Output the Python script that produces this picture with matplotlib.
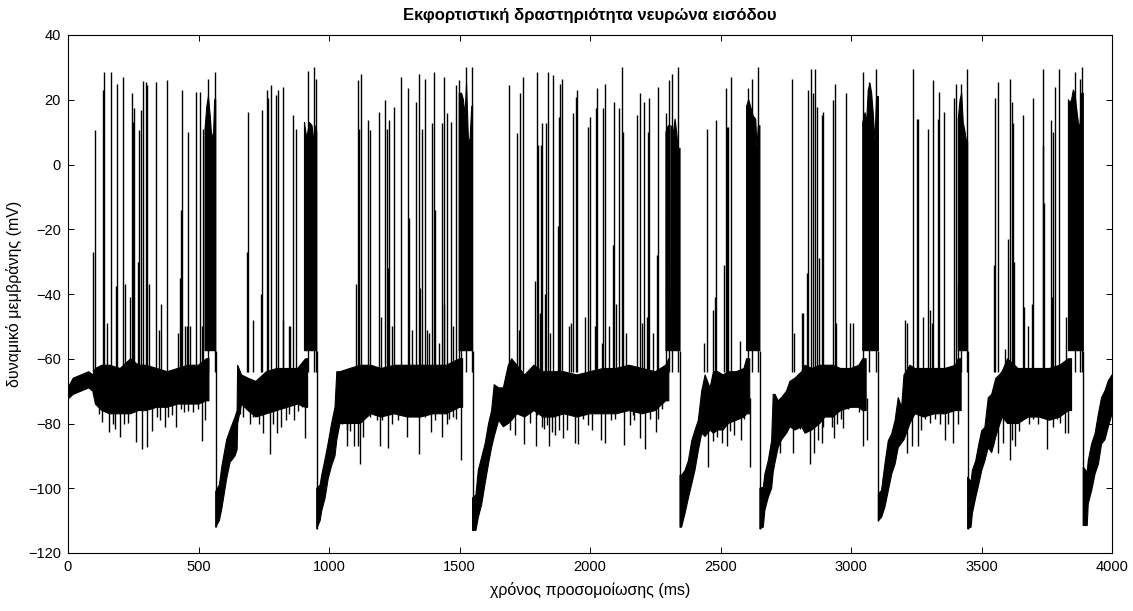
import numpy as np
import matplotlib
matplotlib.use("Agg")
import matplotlib.pyplot as plt

plt.rcParams['font.family'] = ['Liberation Sans', 'DejaVu Sans']

nan = np.nan

# dense sub-threshold band of the trace (ms, mV); NaN splits it at each burst
band_t = [0, 20, 50, 80, 95, 105, 130, 160, 200, 240, 270, 300, 340, 380, 420, 460, 500, 530, 540, nan,
          566, 580, 590, 608, 621, 640, 648, 650, 665, 690, 720, 760, 800, 840, 880, 910, 918, nan,
          953, 966, 972, 985, 997, 1010, 1023, 1030, 1042, 1080, 1120, 1160, 1200, 1250, 1300, 1350, 1400, 1450, 1500, 1512, nan,
          1550, 1563, 1572, 1585, 1598, 1611, 1623, 1633, 1650, 1668, 1687, 1700, 1720, 1750, 1785, 1820, 1860, 1900, 1950, 2000,
          2050, 2100, 2150, 2200, 2250, 2290, 2302, nan,
          2345, 2351, 2364, 2377, 2390, 2402, 2415, 2428, 2441, 2460, 2473, 2490, 2510, 2530, 2560, 2590, 2600, 2612, nan,
          2651, 2664, 2670, 2683, 2696, 2702, 2709, 2721, 2734, 2753, 2766, 2785, 2811, 2824, 2850, 2880, 2900, 2930, 2960, 3000,
          3030, 3045, 3058, nan,
          3105, 3117, 3130, 3143, 3156, 3169, 3181, 3194, 3203, 3226, 3245, 3280, 3320, 3360, 3400, 3411, 3422, nan,
          3447, 3460, 3465, 3478, 3490, 3501, 3513, 3526, 3539, 3555, 3571, 3580, 3600, 3640, 3680, 3720, 3760, 3800, 3833, 3845, nan,
          3890, 3905, 3909, 3922, 3935, 3948, 3960, 3973, 3986, 4000]
band_lo = [-72.5, -71, -70, -69, -70, -74, -76, -77, -77, -77, -76, -76, -75, -75, -74, -74, -74, -73, -73, nan,
           -112, -110, -106, -97, -92, -90, -88, -80, -74, -76, -78, -77, -76, -75, -74, -75, -75, nan,
           -112.5, -110, -107, -103, -97, -93, -90, -85, -80, -80, -80, -77, -78, -77, -78, -78, -77, -77, -75, -75, nan,
           -113, -113, -109, -105, -98.6, -92.5, -87.4, -84, -79, -81, -80, -79, -77, -78, -76, -78, -78, -77, -78, -77,
           -77, -77, -76, -77, -76, -73, -73, nan,
           -112, -112, -107.8, -103, -98.6, -94.5, -88.4, -83, -84, -82, -83, -82, -82, -80, -79, -78, -77, -77, nan,
           -112.5, -112, -106.8, -102.8, -100, -95, -92, -87.4, -85, -83, -81, -82, -81, -83, -82, -80, -78, -78, -76, -75,
           -75, -76, -76, nan,
           -110, -109, -105.8, -100.7, -95.6, -92.5, -87.4, -86, -85, -80, -77, -78, -77, -77, -76, -76, -76, nan,
           -112.5, -112, -107.8, -102.8, -98.6, -94.5, -91.5, -87.4, -89, -84, -80, -78, -80, -80, -78, -78, -79, -78, -76, -76, nan,
           -111.5, -111.5, -104.8, -100.7, -95.6, -92.5, -86.3, -85, -81, -77]
band_hi = [-69, -66, -65, -64, -65, -63, -62, -62, -63, -60, -62, -62, -63, -64, -63, -62, -62, -60, -60, nan,
           -101, -99, -93, -85, -82, -78, -76, -62, -65, -66, -67, -64, -63, -63, -63, -60, -60, nan,
           -100, -99, -96, -91, -86, -80, -75, -64, -64, -63, -62, -62, -63, -62, -62, -62, -62, -62, -60, -60, nan,
           -103, -102, -94.5, -90.4, -86.3, -80.2, -76, -68, -69, -69, -62, -60, -62, -65, -62, -64, -64, -64, -65, -64,
           -63, -63, -62, -63, -64, -62, -60, nan,
           -96, -96, -94.5, -91.5, -85.3, -82.2, -79, -70, -65, -69, -64, -64, -65, -64, -64, -63, -60, -60, nan,
           -100, -99.7, -95.6, -91.5, -85.3, -71, -71, -73, -72, -70, -67, -66, -64, -62, -63, -62, -62, -62, -63, -63,
           -62, -60, -60, nan,
           -101.7, -100.7, -92.5, -85.3, -83.2, -79, -72, -75, -65, -62, -63, -63, -63, -63, -62, -60, -60, nan,
           -96.6, -98, -94.5, -91.5, -86.3, -82.2, -81.2, -72, -71, -66, -64.8, -63.8, -60, -63, -63, -63, -63, -62, -60, -60, nan,
           -93.5, -95, -91.5, -86.3, -83.2, -77, -72, -69.9, -66.8, -65]

# burst plateaus: upper edge of the filled block above the reset level
block_t = [525, 532, 538, 545, 551, 558, 562, 566, nan,
           906, 915, 925, 935, 943, 950, 953, nan,
           1499, 1508, 1515, 1521, 1527, 1534, 1540, 1547, 1550, nan,
           2291, 2300, 2303, 2304, 2309, 2310, 2320, 2326, 2332, 2338, 2345, nan,
           2600, 2608, 2615, 2625, 2635, 2640, 2645, 2651, nan,
           3045, 3054, 3060, 3066, 3073, 3079, 3085, 3092, 3098, 3105, nan,
           3411, 3418, 3424, 3430, 3437, 3443, 3447, nan,
           3833, 3839, 3845, 3852, 3858, 3865, 3871, 3877, 3884, 3890]
block_top = [11, 18, 21, 15, 8, 10, 20, 20, nan,
             13, 8, 13, 12, 7, 12, 10, nan,
             22, 22, 20, 15, 25, 8, 7, 18, 18, nan,
             10, 12, 12, -45, -45, 12, 10, 14, 10, 5, 5, nan,
             18, 20, 18, 15, 14, 5, 12, 12, nan,
             13, 16, 13, 23, 25, 22, 16, 7, 21, 21, nan,
             14, 20, 22, 13, 10, 7, 7, nan,
             20, 19, 20, 23, 22, 17, 13, 11, 22, 22]
block_floor = -57.5

# after-burst hyperpolarisation
reset_t = [566, 953, 1550, 2345, 2651, 3105, 3447, 3890]
reset_min = [-112, -112.5, -113, -112, -112.5, -110, -112.5, -111.5]

# spike peaks (ms, mV)
spike_t = [97, 102, 133, 138, 148, 164, 184, 189, 209, 220, 237, 244, 248, 253, 270, 273, 278, 289, 299, 304, 312, 350,
           336, 356, 378, 423, 430, 433, 435, 448, 455, 461, 467, 489, 506, 512, 519, 535, 563,
           684, 688, 707, 740, 742, 761, 765, 777, 797, 803, 822, 825, 846, 851, 861, 874, 920, 944, 950,
           1103, 1110, 1115, 1123, 1148, 1157, 1193, 1198, 1215, 1221, 1227, 1230, 1243, 1249, 1275, 1304, 1308, 1317,
           1332, 1345, 1349, 1355, 1368, 1375, 1383, 1396, 1404, 1406, 1421, 1432, 1439,
           1442, 1451, 1466, 1474, 1487, 1499, 1504, 1525, 1547,
           1691, 1719, 1729, 1732, 1745, 1789, 1796, 1800,
           1808, 1812, 1817, 1828, 1831, 1840, 1847, 1860, 1876, 1881, 1885, 1894, 1920, 1927, 1936, 1945, 1952, 1981,
           1994, 2000, 2019, 2023, 2026, 2045, 2051, 2058, 2073, 2087, 2092, 2098, 2111, 2124, 2128, 2137,
           2181, 2192, 2198, 2207, 2220, 2224, 2227, 2240, 2258, 2262, 2291, 2303, 2313, 2338,
           2435, 2450, 2473, 2479, 2483, 2513, 2521, 2524, 2527, 2540, 2575, 2606, 2622, 2645,
           2773, 2781, 2811, 2816, 2830, 2836, 2847, 2856, 2862, 2868, 2877, 2888,
           2891, 2930, 2939, 2943, 2981, 2996, 3006, 3045, 3070, 3096,
           3207, 3216, 3236, 3252, 3258, 3277, 3296, 3303, 3312, 3315, 3332, 3337, 3358, 3396, 3401, 3409, 3421, 3443,
           3549, 3552, 3562, 3590, 3600, 3609, 3616,
           3622, 3626, 3660, 3663, 3679, 3692, 3699, 3734, 3737, 3740, 3766, 3769, 3773, 3782, 3798, 3824,
           3858, 3877, 3884]
spike_v = [-27, 10.6, 23, 28.6, -49, 28.6, -37.6, 25, 27, -37, -41, 22, 13, 17.3, -30, 10.6, 16.8, 25.7, 25.5, 24.5, -37, -51,
           25.5, -43, 26, -52, -35, -14, 23, -50, -50, 10, -50, 22.4, 22.4, -50, 11, 26.5, 28.6,
           -27, 16.3, -48, -40, 16.8, 23, 20.4, 24.5, 21.4, 23, -48, 24, -50, -50, 15.3, 11, 29, 30, 26.5,
           -37, 26, 11, 28, 13.7, 10.6, 16.3, -47, 20, 11, -32, 13.7, -50, 17.8, 27, 23.5, -16.6, -51,
           19.4, 28, -38, 11, 26.5, -51, -52, 12.7, 28.6, -14, -55, 12.7, 27,
           -43, 15.8, 13.2, -50, 24.5, 26, -40, 30, 30,
           24.5, 9.6, -51, 22, 27, -36, 28.6, 6,
           -46, 6, 12.7, -40, 12.7, 28.6, -52, 27.6, -19, 14.7, 25, 26.5, -50, -49, 15.8, 21, 23, -47,
           11.7, 14.7, -50, 17.3, 23.5, -55, 17.3, 25, -50, -25, 19.4, -43, 17.3, 30, 10, -52,
           15.3, 22, -49, 19.4, -47, 10, 20.4, -52, -28, 24, 15.8, 26, 28, 30,
           -55, 11, -45, -41, 13.7, -31, 23.5, 11.7, 11.7, 27, -54.5, 23.5, 26.5, 30,
           26.5, -52, -46, -46, -33.5, 23, 29.6, 22, 29.6, 17.8, -29, 15.3,
           16.3, 20, 25, -49, 22, -49, -49, 28.6, 25.5, 29.6,
           -48, -49, 29.6, 14.2, 14.2, -47, 11, -45, -49, 26, 14.2, 22.4, 16.3, 20.4, 25, -37, 25, 29.6,
           -31, 20.4, 25.5, -57, -23, 26.5, 19.4,
           12.7, -30, 15.3, -44, -50, -43, 20.4, 6, 29.6, -12, 13.7, -41, 10, 24, 29.6, -47,
           28.6, 26.5, 30]

# downward excursions below the band (ms, mV)
dip_t = [103, 120, 129, 158, 171, 180, 199, 215, 231, 261, 283, 301, 321, 340,
         352, 372, 384, 397, 413, 433, 446, 461, 480, 497, 512, 525,
         660, 672, 697, 710, 733, 746, 774, 784, 802, 815, 835, 848, 866, 882, 895, 908,
         1050, 1070, 1068, 1080, 1097, 1112, 1119, 1132, 1157, 1183, 1195, 1204, 1227, 1243, 1266, 1298, 1323, 1345,
         1368, 1391, 1406, 1432, 1451, 1461, 1476, 1487, 1504,
         1693, 1713, 1748, 1770, 1798,
         1793, 1815, 1825, 1834, 1844, 1856, 1866, 1881, 1898, 1911, 1943, 1953, 1974, 1991, 2006, 2042, 2058, 2081,
         2096, 2132, 2153, 2170, 2166, 2192, 2211, 2230, 2253, 2262, 2275,
         2453, 2473, 2488, 2505, 2524, 2536, 2553, 2566, 2579, 2591, 2613,
         2728, 2747, 2779, 2805, 2824, 2843, 2859, 2872, 2888,
         2894, 2904, 2926, 2935, 2948, 2960, 2968, 2990, 3012, 3032, 3045, 3060,
         3216, 3232, 3255, 3268, 3284, 3303, 3322, 3341, 3360, 3373, 3392, 3409,
         3545, 3564, 3584, 3609, 3616, 3628, 3645, 3660, 3683, 3699, 3718, 3750, 3775, 3788, 3801, 3820, 3833]
dip_v = [-72.5, -77, -79.6, -82.7, -80.2, -81.7, -84.3, -80.2, -79.7, -85.8, -87.9, -87.4, -82.2, -78,
         -79, -81, -78, -77.5, -81, -75.5, -76.5, -76, -76.5, -75.5, -85.3, -79,
         -77, -78, -80, -78, -80, -83, -89.4, -80, -83, -81, -79, -77, -79, -76, -75, -84.5,
         -80, -82, -87, -82.2, -87, -87, -92.5, -84.3, -78, -79, -87, -79, -87.5, -80, -79, -84.3, -77, -89.4,
         -78, -82.5, -79, -84.3, -80.2, -78.7, -78, -78.7, -91.4,
         -82, -83.6, -86.3, -79.7, -77.5,
         -87, -81, -81.6, -80.6, -87, -82.7, -83.6, -82, -84.6, -82, -86, -86.3, -78.5, -80.6, -82, -85, -86, -79,
         -78.5, -86.5, -80.6, -79, -77.5, -84.5, -88, -78.5, -82.7, -78.5, -75.5,
         -93.5, -85.3, -84.3, -86, -87, -82.2, -83.6, -76, -85, -78.5, -93.5,
         -89, -81.8, -89, -81.8, -79.7, -92.5, -89, -85, -86,
         -81, -74.5, -81, -84.5, -80.3, -78.7, -81.3, -75.5, -74.5, -76.6, -87, -85,
         -89, -87, -87, -82, -78.7, -79.7, -78.7, -80.3, -85, -80.3, -86, -80,
         -87, -89, -86, -91.2, -85, -87, -82.4, -77.7, -80.3, -78.7, -80.3, -88, -81, -78.7, -79.7, -83, -83]

x_ticks = np.arange(0, 4001, 500)
y_ticks = np.arange(-120, 41, 20)

fig = plt.figure(figsize=(11.33, 6.11), dpi=100)
ax = fig.add_axes([68 / 1133, 1 - 553 / 611, 1044 / 1133, 518 / 611])

ax.fill_between(band_t, band_lo, band_hi, facecolor='k', edgecolor='k', lw=0.8)
ax.fill_between(block_t, block_floor, block_top, facecolor='k', edgecolor='k', lw=0.8)
ax.vlines(reset_t, reset_min, block_floor, color='k', lw=1.0)
ax.vlines(spike_t, -64, spike_v, color='k', lw=1.0)
ax.vlines(dip_t, dip_v, -72, color='k', lw=1.0)

ax.set_xlim(0, 4000)
ax.set_ylim(-120, 40)
ax.set_xticks(x_ticks)
ax.set_yticks(y_ticks)
ax.tick_params(direction='in', top=True, right=True, length=4.5, width=0.7,
               labelsize=10.5, pad=5)
for s in ax.spines.values():
    s.set_linewidth(0.8)

ax.set_title('Εκφορτιστική δραστηριότητα νευρώνα εισόδου', fontsize=12,
             fontweight='bold', pad=11)
ax.set_xlabel('χρόνος προσομοίωσης (ms)', fontsize=11.5, labelpad=6)
ax.set_ylabel('δυναμικό μεμβράνης (mV)', fontsize=11.5, labelpad=4)

fig.savefig('out.png', dpi=100)
